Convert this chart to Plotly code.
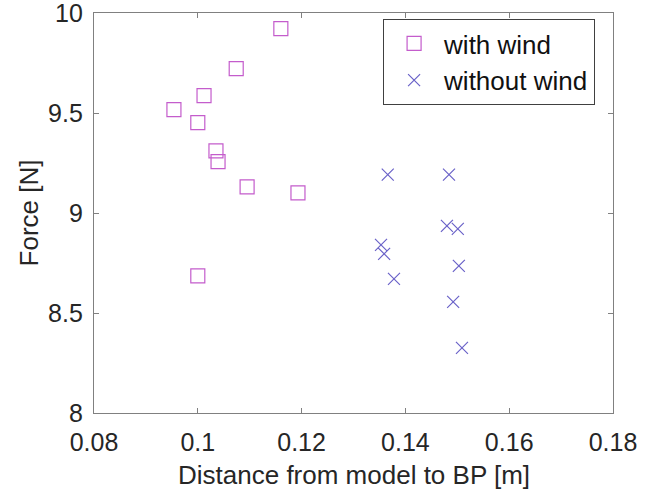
import plotly.graph_objects as go

with_x = [0.0954, 0.1012, 0.1000, 0.1074, 0.1160, 0.1035, 0.1039, 0.1095, 0.1193, 0.1000]
with_y = [9.517, 9.587, 9.452, 9.722, 9.922, 9.311, 9.257, 9.131, 9.101, 8.686]
without_x = [0.1366, 0.1484, 0.1353, 0.1359, 0.1378, 0.1480, 0.1501, 0.1503, 0.1492, 0.1509]
without_y = [9.192, 9.192, 8.841, 8.796, 8.671, 8.936, 8.921, 8.736, 8.556, 8.326]
x_ticks = [0.08, 0.10, 0.12, 0.14, 0.16, 0.18]
x_tick_labels = ["0.08", "0.1", "0.12", "0.14", "0.16", "0.18"]
y_ticks = [8, 8.5, 9, 9.5, 10]
y_tick_labels = ["8", "8.5", "9", "9.5", "10"]
x_title = "Distance from model to BP [m]"
y_title = "Force [N]"

FONT = "Liberation Sans, Arial, sans-serif"

fig = go.Figure()
fig.add_trace(go.Scatter(
    x=with_x, y=with_y, mode="markers", name="with wind",
    marker=dict(symbol="square-open", size=14, color="#c45ccc", line=dict(width=1.2)),
))
fig.add_trace(go.Scatter(
    x=without_x, y=without_y, mode="markers", name="without wind",
    marker=dict(symbol="x-thin-open", size=12, color="#6a62c8", line=dict(width=1.2, color="#6a62c8")),
))

axis_common = dict(
    showgrid=False, zeroline=False, showline=True, mirror="ticks",
    linecolor="#808080", linewidth=1.3, ticks="inside", ticklen=5,
    tickcolor="#808080", tickfont=dict(family=FONT, size=25, color="#262626"),
    automargin=False, ticklabeloverflow="allow",
)
fig.update_xaxes(range=[0.08, 0.18], tickvals=x_ticks, ticktext=x_tick_labels,
                 ticklabelstandoff=7, **axis_common)
fig.update_yaxes(range=[8, 10], tickvals=y_ticks, ticktext=y_tick_labels,
                 ticklabelstandoff=5,
                 title=dict(text=y_title, font=dict(family=FONT, size=26, color="#262626"), standoff=1),
                 **axis_common)

fig.add_annotation(text=x_title, xref="paper", yref="paper", x=0.5, y=-0.155,
                   xanchor="center", yanchor="middle", showarrow=False, borderpad=0,
                   font=dict(family=FONT, size=26, color="#262626"))

fig.update_layout(
    width=652, height=493,
    margin=dict(l=94, r=39, t=13, b=80),
    plot_bgcolor="white", paper_bgcolor="white",
    font=dict(family=FONT, color="#262626"),
    legend=dict(x=0.557, y=0.985, xanchor="left", yanchor="top",
                bordercolor="#404040", borderwidth=1, bgcolor="white",
                font=dict(family=FONT, size=26, color="#111111"),
                itemwidth=50, tracegroupgap=0),
    showlegend=True,
)

fig.write_html("out.html")
